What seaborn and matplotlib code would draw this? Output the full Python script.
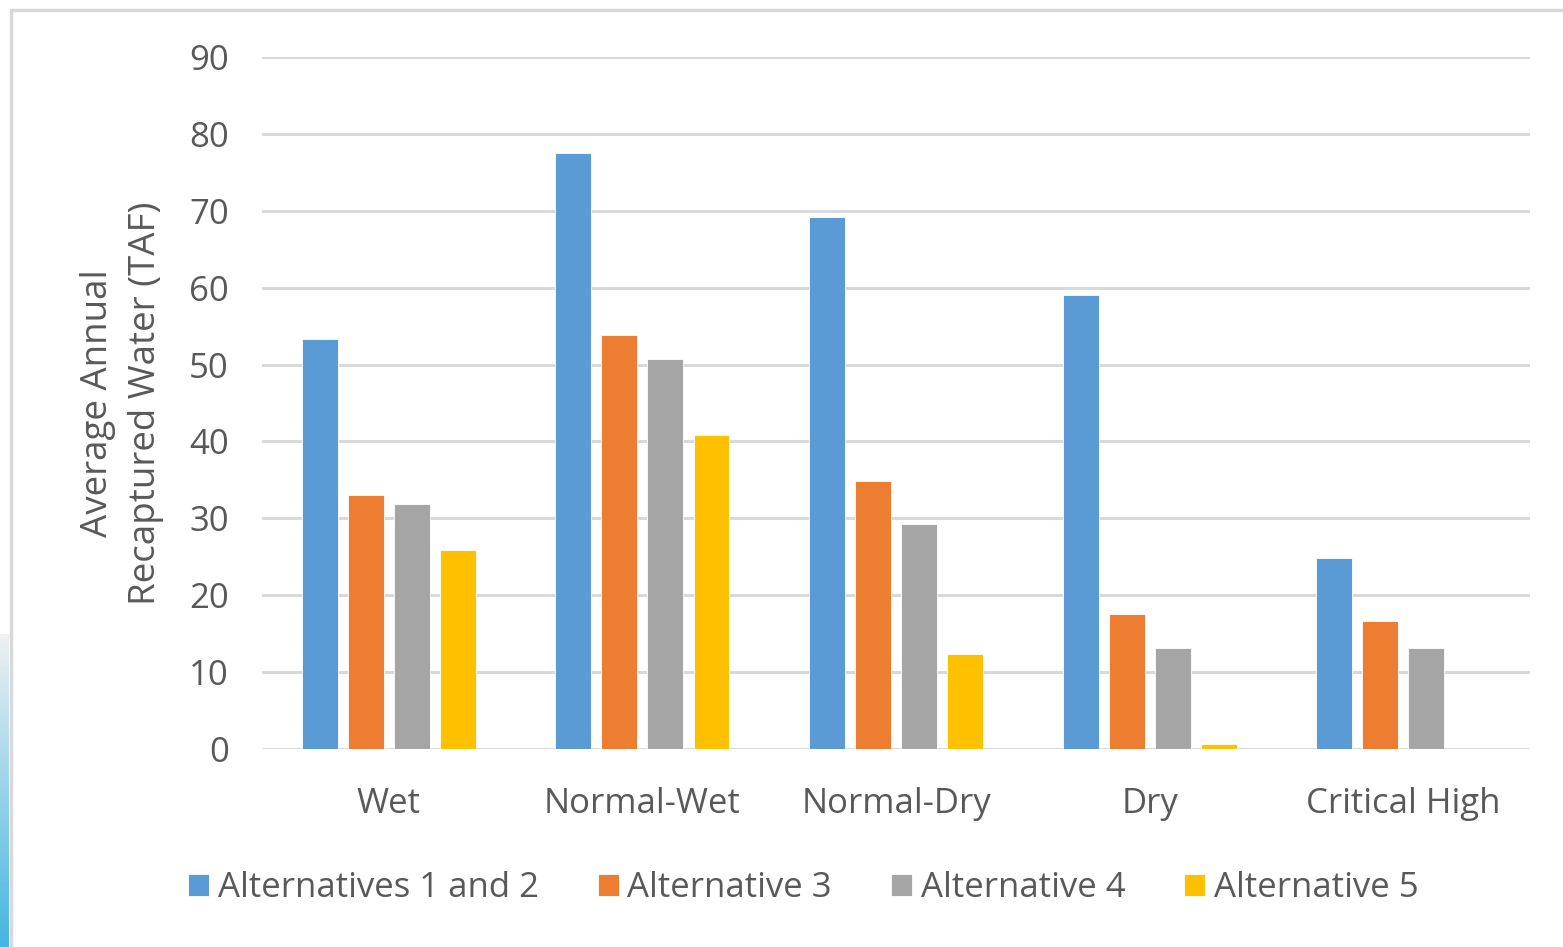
import numpy as np
import pandas as pd
import seaborn as sns
import matplotlib.pyplot as plt
from matplotlib.lines import Line2D

categories = ['Wet', 'Normal-Wet', 'Normal-Dry', 'Dry', 'Critical High']
alt_1_2 = [53.3, 77.5, 69.2, 59.0, 24.8]
alt_3 = [33.0, 53.8, 34.8, 17.6, 16.6]
alt_4 = [31.9, 50.7, 29.3, 13.1, 13.1]
alt_5 = [25.9, 40.8, 12.4, 0.7, 0.0]
series = ['Alternatives 1 and 2', 'Alternative 3', 'Alternative 4', 'Alternative 5']
colors = ['#5B9BD5', '#ED7D31', '#A5A5A5', '#FFC000']

rows = []
for name, vals in zip(series, [alt_1_2, alt_3, alt_4, alt_5]):
    for cat, v in zip(categories, vals):
        rows.append({'cat': cat, 'series': name, 'value': v})
df = pd.DataFrame(rows)

sns.set_theme(style='white')
plt.rcParams['font.family'] = ['Open Sans', 'DejaVu Sans']
text_col = '#595959'
fs = 25

fig = plt.figure(figsize=(15.63, 9.47), dpi=100)
ax = fig.add_axes([0.1676, 0.209, 0.979 - 0.1676, 0.9398 - 0.209])

sns.barplot(data=df, x='cat', y='value', hue='series', palette=colors,
            width=0.726, gap=0.22, ax=ax, edgecolor='white', linewidth=0.6,
            errorbar=None, saturation=1)

ax.set_ylim(0, 90)
ax.set_xlim(-0.5, 4.5)
ax.set_yticks(np.arange(0, 91, 10))
ax.yaxis.grid(True, color='#d9d9d9', linewidth=2.2)
ax.set_axisbelow(True)
for s in ax.spines.values():
    s.set_visible(False)
ax.tick_params(axis='both', length=0, labelsize=fs, colors=text_col)
ax.tick_params(axis='y', pad=24)
ax.tick_params(axis='x', pad=27)
ax.set_xlabel('')
ax.set_ylabel('Average Annual\nRecaptured Water (TAF)', fontsize=fs + 1.5, color=text_col,
              labelpad=18, linespacing=1.45)

sns.move_legend(ax, loc='center', bbox_to_anchor=(0.514, 0.062),
                bbox_transform=fig.transFigure, ncol=4, frameon=False, title=None,
                fontsize=fs, handlelength=0.6, handleheight=0.6,
                handletextpad=0.25, columnspacing=1.7)
for t in ax.get_legend().get_texts():
    t.set_color(text_col)

# light frame around the chart
fig.add_artist(Line2D([11 / 1563, 11 / 1563], [0, 1 - 10 / 947], color='#d9d9d9', lw=2.5))
fig.add_artist(Line2D([11 / 1563, 1], [1 - 10 / 947, 1 - 10 / 947], color='#d9d9d9', lw=2.5))

# blue strip at lower left edge
strip = fig.add_axes([0, 0, 9 / 1563, 0.33])
grad = np.linspace(1, 0, 200).reshape(-1, 1)
strip.imshow(grad, aspect='auto', cmap=sns.light_palette('#45b5e3', as_cmap=True),
             origin='lower')
strip.axis('off')

fig.savefig('out.png', dpi=100)
